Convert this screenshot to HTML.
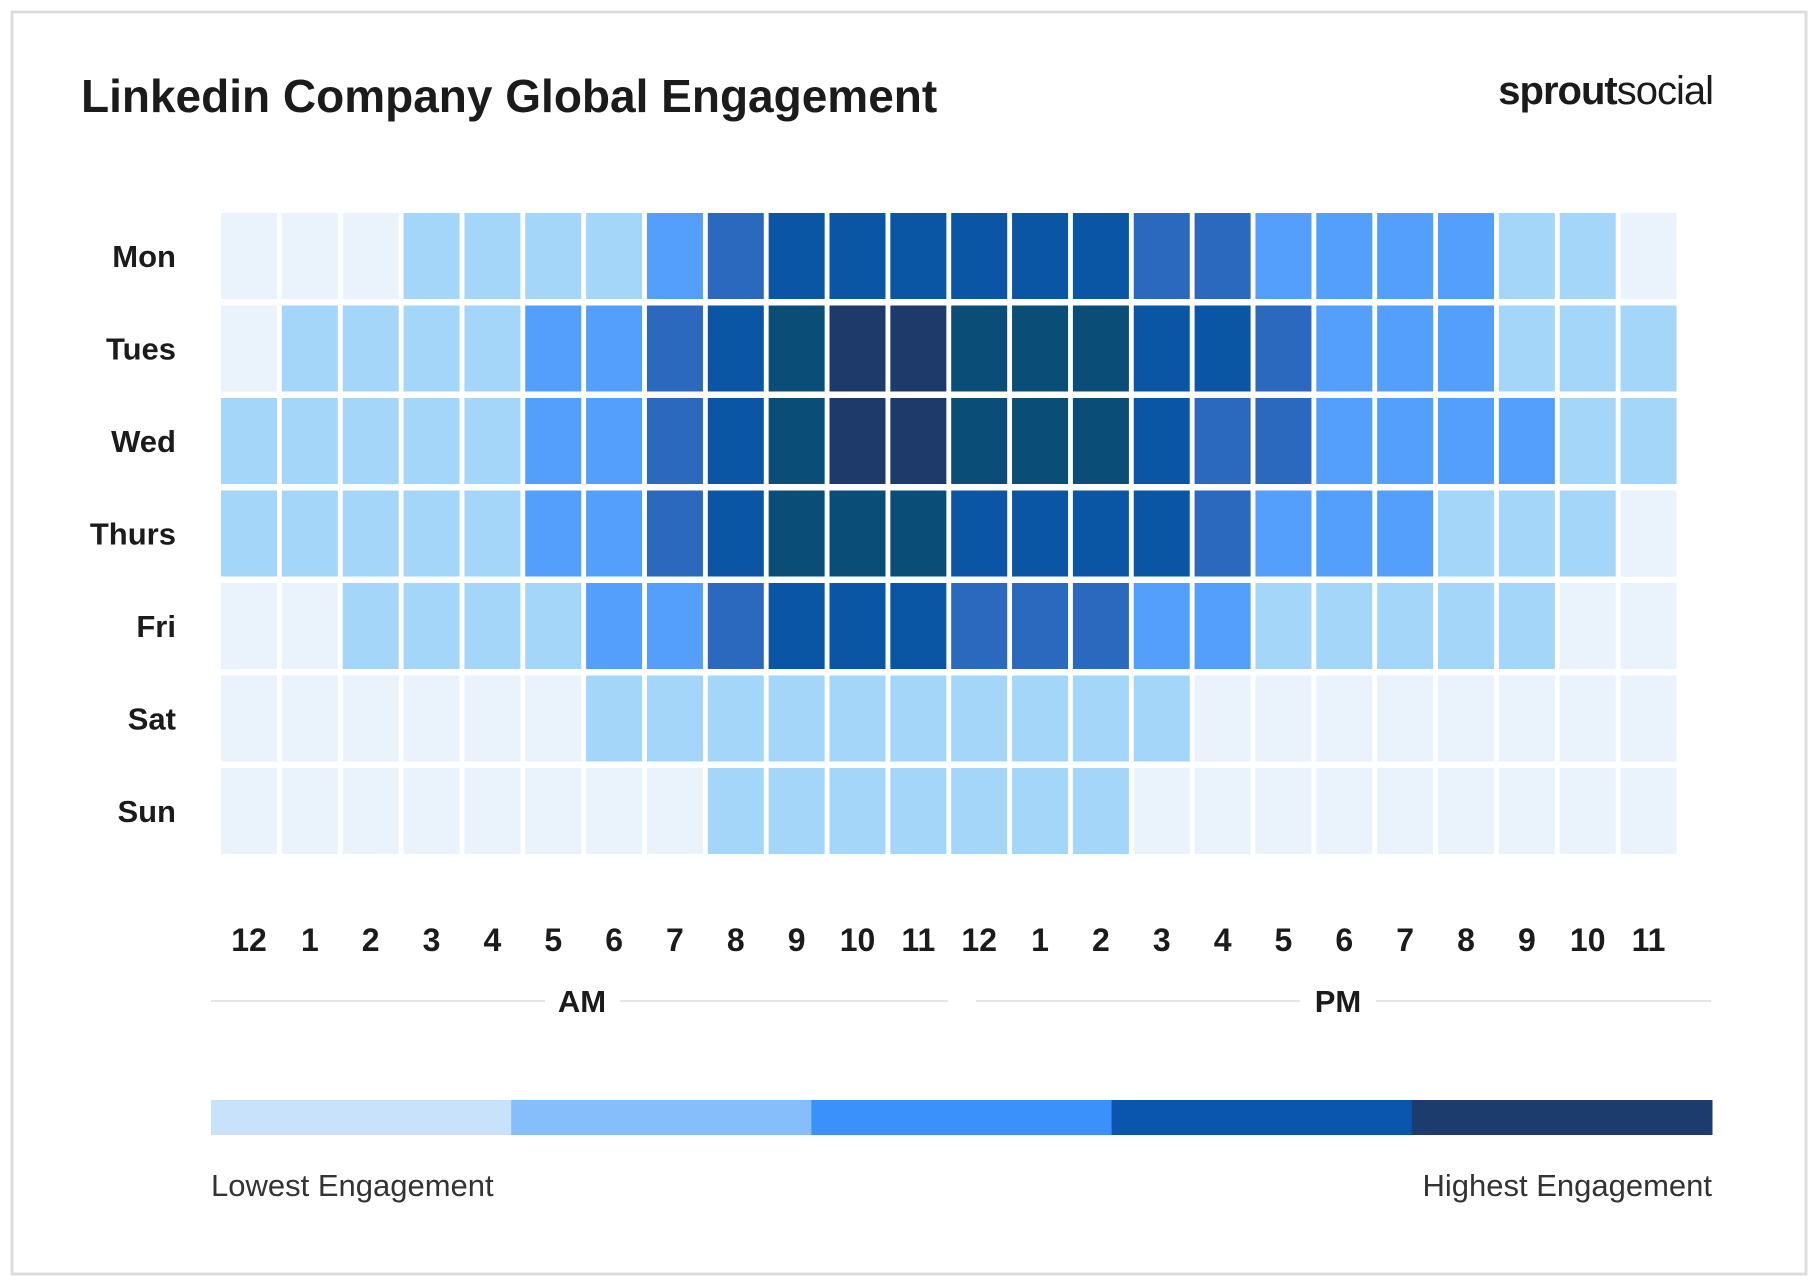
<!DOCTYPE html>
<html><head><meta charset="utf-8">
<style>
html,body{margin:0;padding:0;background:#fff;}
body{width:1818px;height:1280px;overflow:hidden;font-family:"Liberation Sans",sans-serif;}
svg text{font-family:"Liberation Sans",sans-serif;}
</style></head>
<body>
<svg id="chart" width="1818" height="1280" viewBox="0 0 1818 1280" xmlns="http://www.w3.org/2000/svg">
<rect x="12" y="12" width="1794" height="1262" fill="#fff" stroke="#dcdcdc" stroke-width="3"/>
<text x="81" y="112" font-size="46" font-weight="bold" fill="#1b1b1b">Linkedin Company Global Engagement</text>
<text x="1713" y="104" text-anchor="end" font-size="40" fill="#1b1b1b" letter-spacing="-1"><tspan font-weight="bold">sprout</tspan><tspan>social</tspan></text>
<g id="cells"></g>
<g id="days"></g>
<g id="hours"></g>
<line x1="211" y1="1001" x2="545" y2="1001" stroke="#e6e6e6" stroke-width="2"/>
<line x1="620" y1="1001" x2="948" y2="1001" stroke="#e6e6e6" stroke-width="2"/>
<text x="582" y="1012" text-anchor="middle" font-size="31" font-weight="bold" fill="#1b1b1b">AM</text>
<line x1="976" y1="1001" x2="1300" y2="1001" stroke="#e6e6e6" stroke-width="2"/>
<line x1="1376" y1="1001" x2="1711" y2="1001" stroke="#e6e6e6" stroke-width="2"/>
<text x="1338" y="1012" text-anchor="middle" font-size="31" font-weight="bold" fill="#1b1b1b">PM</text>
<g id="legend"></g>
<text x="211" y="1196" font-size="31" fill="#333">Lowest Engagement</text>
<text x="1712" y="1196" text-anchor="end" font-size="31" fill="#333">Highest Engagement</text>
</svg>
<script>
const days = ["Mon","Tues","Wed","Thurs","Fri","Sat","Sun"];
const hours = ["12","1","2","3","4","5","6","7","8","9","10","11","12","1","2","3","4","5","6","7","8","9","10","11"];
const monVals   = [0,0,0,1,1,1,1,2,3,4,4,4,4,4,4,3,3,2,2,2,2,1,1,0];
const tuesVals  = [0,1,1,1,1,2,2,3,4,5,6,6,5,5,5,4,4,3,2,2,2,1,1,1];
const wedVals   = [1,1,1,1,1,2,2,3,4,5,6,6,5,5,5,4,3,3,2,2,2,2,1,1];
const thursVals = [1,1,1,1,1,2,2,3,4,5,5,5,4,4,4,4,3,2,2,2,1,1,1,0];
const friVals   = [0,0,1,1,1,1,2,2,3,4,4,4,3,3,3,2,2,1,1,1,1,1,0,0];
const satVals   = [0,0,0,0,0,0,1,1,1,1,1,1,1,1,1,1,0,0,0,0,0,0,0,0];
const sunVals   = [0,0,0,0,0,0,0,0,1,1,1,1,1,1,1,0,0,0,0,0,0,0,0,0];
const values = [monVals,tuesVals,wedVals,thursVals,friVals,satVals,sunVals];
const levelColors = ["#EAF2FB","#A3D6F9","#539FFB","#2A69BD","#0A56A5","#0A4E78","#1D3A6A"];
const legendColors = ["#C8E2FB","#86BDFB","#3A91FC","#0A56AE","#1B3C6C"];

const NS="http://www.w3.org/2000/svg";
const x0=221, colPitch=60.85, cellW=56, y0=213, rowPitch=92.5, cellH=86;
const xScale=i=>x0+i*colPitch;
const yScale=j=>y0+j*rowPitch;
const cells=document.getElementById('cells');
values.forEach((row,j)=>{
  row.forEach((v,i)=>{
    const r=document.createElementNS(NS,'rect');
    
    
    r.setAttribute('x',xScale(i));r.setAttribute('y',yScale(j));
    r.setAttribute('width',cellW);r.setAttribute('height',cellH);
    r.setAttribute('fill',levelColors[v]);
    cells.appendChild(r);
  });
});
const dg=document.getElementById('days');
days.forEach((d,j)=>{
  const t=document.createElementNS(NS,'text');
  
  
  t.setAttribute('x',176);t.setAttribute('y',yScale(j)+cellH/2+11);
  t.setAttribute('text-anchor','end');t.setAttribute('font-size','31');
  t.setAttribute('font-weight','bold');t.setAttribute('fill','#1b1b1b');
  t.textContent=d;dg.appendChild(t);
});
const hg=document.getElementById('hours');
hours.forEach((h,i)=>{
  const t=document.createElementNS(NS,'text');
  
  
  t.setAttribute('x',xScale(i)+cellW/2);t.setAttribute('y',951);
  t.setAttribute('text-anchor','middle');t.setAttribute('font-size','32');
  t.setAttribute('font-weight','bold');t.setAttribute('fill','#1b1b1b');
  t.textContent=h;hg.appendChild(t);
});
const lg=document.getElementById('legend');
const lx0=211, lw=(1712-211)/legendColors.length;
legendColors.forEach((c,k)=>{
  const r=document.createElementNS(NS,'rect');
  
  
  r.setAttribute('x',lx0+k*lw);r.setAttribute('y',1100);
  r.setAttribute('width',lw+0.5);r.setAttribute('height',35);
  r.setAttribute('fill',c);lg.appendChild(r);
});
</script>
</body></html>
